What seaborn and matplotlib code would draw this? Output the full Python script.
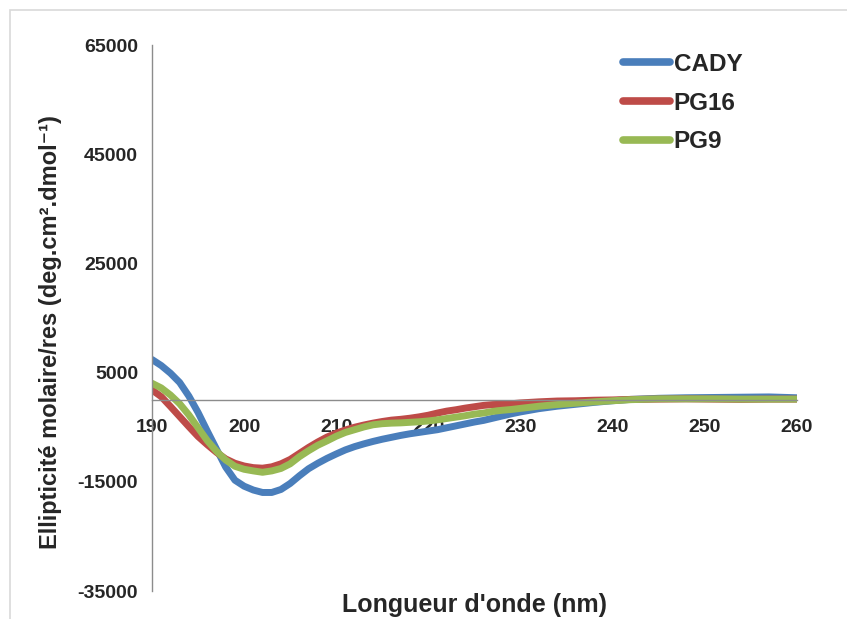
import matplotlib
matplotlib.use('Agg')
import matplotlib.pyplot as plt
from matplotlib.patches import Rectangle
import numpy as np
import pandas as pd
import seaborn as sns

# CD spectra (wavelength in nm, ellipticity in deg.cm2.dmol-1)
wavelength = [190, 191, 192, 193, 194, 195, 196, 197, 198, 199,
              200, 201, 202, 203, 204, 205, 206, 207, 208, 209,
              210, 211, 212, 213, 214, 215, 216, 217, 218, 219,
              220, 221, 222, 223, 224, 225, 226, 227, 228, 229,
              230, 232, 234, 236, 238, 240, 242, 245, 248, 251,
              254, 257, 260]

cady = [7400, 6300, 4900, 3200, 700, -2300, -5700, -9000, -12300, -14700,
        -15800, -16500, -16950, -16950, -16400, -15300, -13900, -12600, -11600, -10700,
        -9900, -9150, -8550, -8050, -7600, -7200, -6850, -6500, -6200, -5950,
        -5700, -5450, -5100, -4750, -4400, -4050, -3750, -3350, -2950, -2550,
        -2200, -1600, -1150, -800, -450, -150, 100, 300, 400, 450,
        500, 550, 400]

pg16 = [1830, 600, -1200, -3050, -4900, -6700, -8200, -9600, -10800, -11600,
        -12100, -12400, -12500, -12250, -11700, -10900, -9800, -8700, -7700, -6800,
        -6100, -5500, -5000, -4600, -4250, -3950, -3700, -3550, -3350, -3100,
        -2800, -2400, -2050, -1800, -1500, -1250, -1000, -850, -800, -700,
        -550, -350, -200, -150, -50, 0, 100, 150, 200, 150,
        100, 150, 150]

pg9 = [3050, 2200, 900, -700, -2750, -5100, -7450, -9400, -11000, -12150,
       -12700, -13000, -13250, -13000, -12550, -11700, -10400, -9300, -8300, -7500,
       -6650, -5950, -5450, -4950, -4550, -4350, -4250, -4200, -4100, -4000,
       -3850, -3650, -3400, -3150, -2900, -2600, -2400, -2100, -1900, -1750,
       -1550, -1150, -850, -600, -350, -150, 50, 200, 200, 200,
       150, 150, 150]

series_names = ['CADY', 'PG16', 'PG9']
colors = ['#4A7EBB', '#BE4B48', '#98B954']

df = pd.concat([
    pd.DataFrame({'nm': wavelength, 'val': vals, 'peptide': name})
    for name, vals in zip(series_names, [cady, pg16, pg9])
], ignore_index=True)

sns.set_style('white')
plt.rcParams['font.family'] = ['Liberation Sans', 'DejaVu Sans']
plt.rcParams['font.weight'] = 'bold'
plt.rcParams['axes.unicode_minus'] = False

fig = plt.figure(figsize=(8.47, 6.19), dpi=100)
ax = fig.add_axes([0.1795, 0.0452, 0.761, 0.882])

# light frame around the chart area
fig.patches.append(Rectangle((10 / 847, -0.2), 1.5, 1.2 - 10 / 619,
                             transform=fig.transFigure, fill=False,
                             edgecolor='#d9d9d9', linewidth=1.2))

sns.lineplot(data=df, x='nm', y='val', hue='peptide', hue_order=series_names,
             palette=colors, linewidth=5, ax=ax, legend=False)

ax.set_xlim(190, 260)
ax.set_ylim(-35000, 65000)
ax.set_xticks(range(190, 261, 10))
ax.set_yticks(range(-35000, 65001, 20000))

ax.spines['top'].set_visible(False)
ax.spines['right'].set_visible(False)
ax.spines['bottom'].set_position(('data', 0))
for s in ['left', 'bottom']:
    ax.spines[s].set_color('#8c8c8c')
    ax.spines[s].set_linewidth(1.0)

ax.tick_params(axis='both', direction='out', length=5, color='#8c8c8c',
               labelsize=14)
ax.tick_params(axis='y', pad=5)
ax.tick_params(axis='x', pad=9)
for lab in ax.get_xticklabels() + ax.get_yticklabels():
    lab.set_fontweight('bold')

ax.set_xlabel("Longueur d'onde (nm)", fontsize=18, fontweight='bold')
ax.xaxis.set_label_coords(0.5, -0.004)
ax.set_ylabel('Ellipticité molaire/res (deg.cm².dmol⁻¹)',
              fontsize=17, fontweight='bold')
ax.yaxis.set_label_coords(-0.14, 0.474)

handles = [plt.Line2D([], [], color=c, linewidth=5.5) for c in colors]
leg = ax.legend(handles, series_names, loc='upper left',
                bbox_to_anchor=(0.696, 1.026), frameon=False,
                prop={'size': 17.5, 'weight': 'bold'},
                handlelength=1.95, handletextpad=0.15, labelspacing=0.65)

fig.savefig('out.png', dpi=100)
